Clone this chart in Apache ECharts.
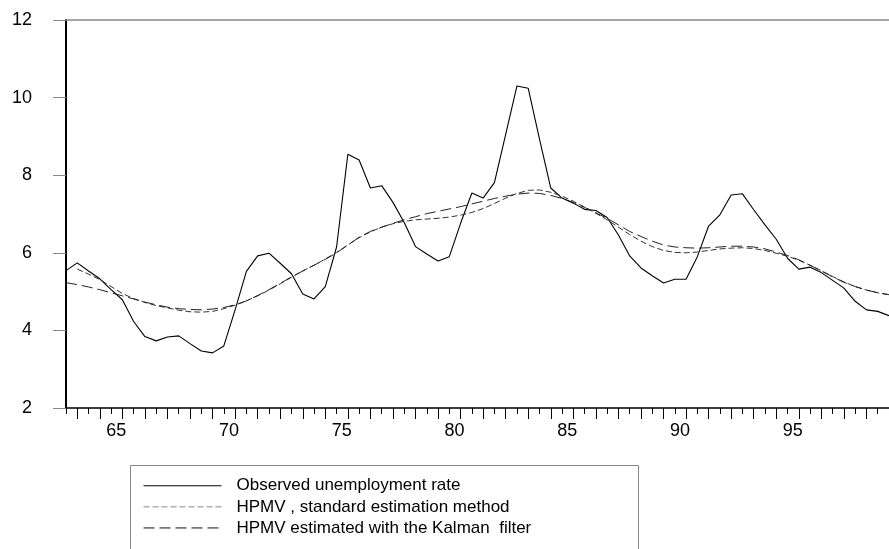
<!DOCTYPE html>
<html>
<head>
<meta charset="utf-8">
<script src="https://cdn.jsdelivr.net/npm/echarts@6/dist/echarts.min.js"></script>
<style>
  html, body { margin: 0; padding: 0; background: #fff; }
  #main { width: 889px; height: 549px; }
</style>
</head>
<body>
<div id="main"></div>
<script>
  // semiannual observations, 1962S2 .. 1999S1
  const firstYear = 1962
  const nPeriods = 74
  const periods = []
  for (let i = 0; i < nPeriods; i++) {
    const year = firstYear + Math.floor((i + 1) / 2)
    periods.push(year + ((i + 1) % 2 === 0 ? 'S1' : 'S2'))
  }
  const labelYears = ['1965', '1970', '1975', '1980', '1985', '1990', '1995']

  const observed = [
    5.54, 5.74, 5.53, 5.33, 5.05, 4.79, 4.23, 3.84, 3.73, 3.83,
    3.86, 3.66, 3.47, 3.42, 3.60, 4.53, 5.52, 5.92, 5.99, 5.73,
    5.46, 4.94, 4.81, 5.13, 6.15, 8.54, 8.39, 7.67, 7.73, 7.30,
    6.78, 6.16, 5.97, 5.79, 5.90, 6.76, 7.54, 7.41, 7.81, 9.05,
    10.30, 10.24, 8.93, 7.67, 7.41, 7.28, 7.12, 7.09, 6.91, 6.46,
    5.92, 5.61, 5.41, 5.22, 5.32, 5.32, 5.90, 6.69, 6.98, 7.49,
    7.52, 7.11, 6.72, 6.35, 5.86, 5.58, 5.63, 5.49, 5.29, 5.09,
    4.75, 4.53, 4.49, 4.38
  ]
  const hpmvStandard = [
    null, 5.58, 5.45, 5.31, 5.13, 4.95, 4.82, 4.72, 4.64, 4.58,
    4.52, 4.48, 4.47, 4.49, 4.56, 4.65, 4.76, 4.89, 5.04, 5.20,
    5.37, 5.53, 5.68, 5.84, 6.01, 6.20, 6.39, 6.54, 6.66, 6.75,
    6.81, 6.85, 6.87, 6.89, 6.92, 6.97, 7.04, 7.14, 7.27, 7.41,
    7.53, 7.61, 7.62, 7.56, 7.46, 7.33, 7.18, 7.02, 6.85, 6.66,
    6.47, 6.30, 6.16, 6.06, 6.01, 6.00, 6.02, 6.06, 6.10, 6.12,
    6.13, 6.11, 6.06, 5.99, 5.91, 5.81, 5.68, 5.54, 5.39, 5.25,
    5.13, 5.04, 4.97, 4.92
  ]
  const hpmvKalman = [
    5.23, 5.18, 5.12, 5.05, 4.97, 4.89, 4.81, 4.73, 4.66, 4.60,
    4.56, 4.54, 4.53, 4.55, 4.59, 4.66, 4.76, 4.90, 5.05, 5.21,
    5.38, 5.53, 5.68, 5.83, 6.00, 6.20, 6.40, 6.55, 6.66, 6.76,
    6.85, 6.93, 7.01, 7.07, 7.13, 7.19, 7.26, 7.33, 7.40, 7.46,
    7.51, 7.54, 7.53, 7.48, 7.40, 7.30, 7.17, 7.03, 6.89, 6.72,
    6.55, 6.42, 6.30, 6.20, 6.15, 6.13, 6.12, 6.13, 6.15, 6.17,
    6.17, 6.15, 6.10, 6.02, 5.93, 5.82, 5.68, 5.53, 5.38, 5.24,
    5.13, 5.04, 4.97, 4.92
  ]

  const names = [
    'Observed unemployment rate',
    'HPMV , standard estimation method',
    'HPMV estimated with the Kalman  filter'
  ]
  const font = 'Liberation Sans, Arial, sans-serif'

  const isLabelled = (i, v) => v.endsWith('S1') && labelYears.includes(v.slice(0, 4))

  const myChart = echarts.init(document.getElementById('main'))
  const option = {
    animation: false,
    backgroundColor: '#fff',
    grid: { left: 66, right: 0, top: 20, bottom: 141 },
    legend: {
      orient: 'vertical',
      left: 143,
      top: 477,
      padding: 0,
      itemWidth: 78,
      itemHeight: 14,
      itemGap: 3.6,
      selectedMode: false,
      itemStyle: { opacity: 0 },
      textStyle: { fontSize: 17, fontFamily: font, color: '#000', lineHeight: 17.5, padding: [0, 0, 0, 10] },
      data: [
        { name: names[0], lineStyle: { color: '#000', width: 1 } },
        { name: names[1], lineStyle: { color: '#888', width: 1 } },
        { name: names[2], lineStyle: { color: '#111', width: 1 } }
      ]
    },
    graphic: [{
      type: 'rect',
      left: 128,
      top: 463,
      shape: { width: 508, height: 84 },
      style: { fill: 'none', stroke: '#888', lineWidth: 1 }
    }],
    xAxis: [
      {
        type: 'category',
        data: periods,
        boundaryGap: false,
        position: 'bottom',
        axisLine: { lineStyle: { color: '#000', width: 1.5 } },
        axisTick: { interval: 0, length: 6, lineStyle: { color: '#000' } },
        axisLabel: {
          interval: isLabelled,
          formatter: v => v.slice(2, 4),
          fontSize: 18,
          fontFamily: font,
          color: '#000',
          margin: 14,
          padding: [0, 12, 0, 0]
        },
        splitLine: { show: false }
      },
      {
        type: 'category',
        data: periods,
        boundaryGap: false,
        position: 'bottom',
        axisLine: { show: false },
        axisTick: { interval: (i, v) => v.endsWith('S1'), length: 11, lineStyle: { color: '#000' } },
        axisLabel: { show: false },
        splitLine: { show: false }
      },
      {
        type: 'category',
        data: periods,
        boundaryGap: false,
        position: 'top',
        axisLine: { lineStyle: { color: '#888', width: 1.5 } },
        axisTick: { show: false },
        axisLabel: { show: false },
        splitLine: { show: false }
      }
    ],
    yAxis: {
      type: 'value',
      min: 2,
      max: 12,
      interval: 2,
      axisLine: { show: true, lineStyle: { color: '#000', width: 2 } },
      axisTick: { show: true, length: 13, lineStyle: { color: '#888' } },
      axisLabel: { fontSize: 18, fontFamily: font, color: '#000', margin: 34, padding: [0, 0, 7, 0] },
      splitLine: { show: false }
    },
    series: [
      {
        name: names[0],
        type: 'line',
        data: observed,
        symbol: 'none',
        lineStyle: { color: '#000', width: 1.1 },
        itemStyle: { color: '#000' }
      },
      {
        name: names[1],
        type: 'line',
        data: hpmvStandard,
        symbol: 'none',
        lineStyle: { color: '#333', width: 1, type: [6, 3] },
        itemStyle: { color: '#333' }
      },
      {
        name: names[2],
        type: 'line',
        data: hpmvKalman,
        symbol: 'none',
        lineStyle: { color: '#222', width: 1, type: [11, 5] },
        itemStyle: { color: '#222' }
      }
    ]
  }
  myChart.setOption(option, true)
</script>
</body>
</html>
